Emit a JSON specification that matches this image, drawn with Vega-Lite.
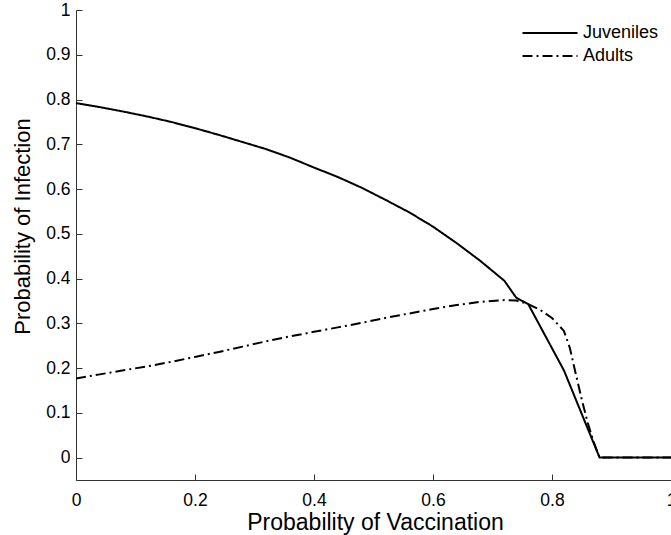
{
  "$schema": "https://vega.github.io/schema/vega-lite/v6.json",
  "width": 595,
  "height": 470,
  "autosize": {"type": "none"},
  "padding": {"left": 76, "top": 10, "right": 0, "bottom": 55},
  "background": "white",
  "config": {
    "font": "Liberation Sans",
    "view": {"stroke": null},
    "axis": {
      "grid": false,
      "domainColor": "#333333",
      "tickColor": "#333333",
      "labelColor": "#000000",
      "titleColor": "#000000",
      "labelFont": "Liberation Sans",
      "titleFont": "Liberation Sans",
      "labelFontSize": 17.5,
      "titleFontWeight": "normal",
      "tickSize": -6,
      "tickWidth": 1
    }
  },
  "data": {
    "values": [
      {"x": 0.00, "y": 0.792, "series": "Juveniles"},
      {"x": 0.04, "y": 0.783, "series": "Juveniles"},
      {"x": 0.08, "y": 0.773, "series": "Juveniles"},
      {"x": 0.12, "y": 0.762, "series": "Juveniles"},
      {"x": 0.16, "y": 0.750, "series": "Juveniles"},
      {"x": 0.20, "y": 0.736, "series": "Juveniles"},
      {"x": 0.24, "y": 0.721, "series": "Juveniles"},
      {"x": 0.28, "y": 0.705, "series": "Juveniles"},
      {"x": 0.32, "y": 0.689, "series": "Juveniles"},
      {"x": 0.36, "y": 0.670, "series": "Juveniles"},
      {"x": 0.40, "y": 0.648, "series": "Juveniles"},
      {"x": 0.44, "y": 0.627, "series": "Juveniles"},
      {"x": 0.48, "y": 0.603, "series": "Juveniles"},
      {"x": 0.52, "y": 0.576, "series": "Juveniles"},
      {"x": 0.56, "y": 0.548, "series": "Juveniles"},
      {"x": 0.60, "y": 0.516, "series": "Juveniles"},
      {"x": 0.64, "y": 0.479, "series": "Juveniles"},
      {"x": 0.68, "y": 0.439, "series": "Juveniles"},
      {"x": 0.72, "y": 0.395, "series": "Juveniles"},
      {"x": 0.74, "y": 0.357, "series": "Juveniles"},
      {"x": 0.76, "y": 0.343, "series": "Juveniles"},
      {"x": 0.82, "y": 0.195, "series": "Juveniles"},
      {"x": 0.88, "y": 0.0, "series": "Juveniles"},
      {"x": 1.00, "y": 0.0, "series": "Juveniles"},
      {"x": 0.00, "y": 0.177, "series": "Adults"},
      {"x": 0.04, "y": 0.186, "series": "Adults"},
      {"x": 0.08, "y": 0.195, "series": "Adults"},
      {"x": 0.12, "y": 0.204, "series": "Adults"},
      {"x": 0.16, "y": 0.214, "series": "Adults"},
      {"x": 0.20, "y": 0.225, "series": "Adults"},
      {"x": 0.24, "y": 0.236, "series": "Adults"},
      {"x": 0.28, "y": 0.248, "series": "Adults"},
      {"x": 0.32, "y": 0.260, "series": "Adults"},
      {"x": 0.36, "y": 0.271, "series": "Adults"},
      {"x": 0.40, "y": 0.281, "series": "Adults"},
      {"x": 0.44, "y": 0.291, "series": "Adults"},
      {"x": 0.48, "y": 0.301, "series": "Adults"},
      {"x": 0.52, "y": 0.312, "series": "Adults"},
      {"x": 0.56, "y": 0.322, "series": "Adults"},
      {"x": 0.60, "y": 0.332, "series": "Adults"},
      {"x": 0.64, "y": 0.341, "series": "Adults"},
      {"x": 0.68, "y": 0.348, "series": "Adults"},
      {"x": 0.72, "y": 0.352, "series": "Adults"},
      {"x": 0.74, "y": 0.351, "series": "Adults"},
      {"x": 0.76, "y": 0.343, "series": "Adults"},
      {"x": 0.78, "y": 0.330, "series": "Adults"},
      {"x": 0.80, "y": 0.312, "series": "Adults"},
      {"x": 0.82, "y": 0.283, "series": "Adults"},
      {"x": 0.83, "y": 0.245, "series": "Adults"},
      {"x": 0.84, "y": 0.187, "series": "Adults"},
      {"x": 0.85, "y": 0.130, "series": "Adults"},
      {"x": 0.86, "y": 0.078, "series": "Adults"},
      {"x": 0.87, "y": 0.035, "series": "Adults"},
      {"x": 0.88, "y": 0.0, "series": "Adults"},
      {"x": 1.00, "y": 0.0, "series": "Adults"}
    ]
  },
  "mark": {"type": "line", "color": "black", "strokeWidth": 2, "strokeJoin": "miter"},
  "encoding": {
    "x": {
      "field": "x", "type": "quantitative",
      "scale": {"domain": [0, 1], "nice": false, "zero": false},
      "axis": {"title": "Probability of Vaccination", "values": [0, 0.2, 0.4, 0.6, 0.8, 1], "format": "~g", "labelPadding": 17, "labelFlush": false,
        "titleFontSize": 23, "titleX": 299, "titleY": 49, "titleBaseline": "alphabetic", "titleAlign": "center"}
    },
    "y": {
      "field": "y", "type": "quantitative",
      "scale": {"domain": [-0.05, 1], "nice": false, "zero": false},
      "axis": {"title": "Probability of Infection", "values": [0, 0.1, 0.2, 0.3, 0.4, 0.5, 0.6, 0.7, 0.8, 0.9, 1], "format": "~g", "labelPadding": 12, "labelFlush": false,
        "titleFontSize": 22, "titleX": -47, "titleY": 216, "titleAngle": -90, "titleBaseline": "alphabetic", "titleAlign": "center"}
    },
    "strokeDash": {
      "field": "series", "type": "nominal",
      "scale": {"domain": ["Juveniles", "Adults"], "range": [[1, 0], [10, 4, 2, 4]]},
      "legend": {
        "title": null,
        "orient": "none",
        "legendX": 465,
        "legendY": 14,
        "rowPadding": 5,
        "symbolType": "M-5,0H5",
        "symbolSize": 121,
        "symbolStrokeWidth": 2,
        "symbolStrokeColor": "black",
        "symbolFillColor": "transparent",
        "labelFontSize": 18,
        "labelFont": "Liberation Sans",
        "labelColor": "black",
        "labelOffset": 24
      }
    }
  }
}
